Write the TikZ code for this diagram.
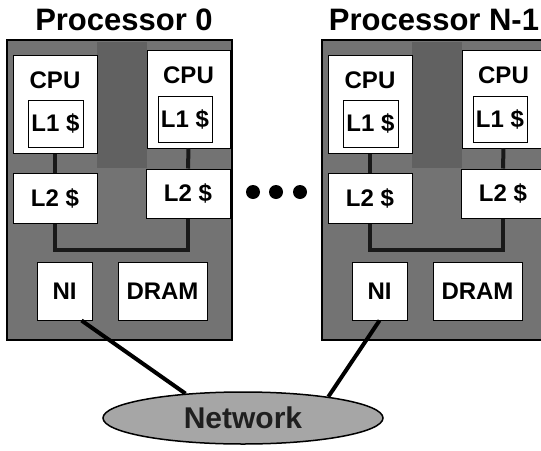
\documentclass[tikz,border=0pt]{standalone}
\usepackage{fontspec}
\setmainfont{Liberation Sans}
\usetikzlibrary{positioning,shapes.geometric}

\tikzset{
  procbox/.style={draw=black,line width=1.5pt,fill=black!55},
  unit/.style={draw=black,line width=1pt,fill=white,inner sep=0pt,
    font=\bfseries\fontsize{24}{26}\selectfont},
  lab/.style={inner sep=0pt,font=\bfseries\fontsize{24}{26}\selectfont},
  title/.style={inner sep=0pt,anchor=base,font=\bfseries\fontsize{31}{33}\selectfont},
  bus/.style={line width=4pt,black!90},
  link/.style={line width=4pt,black},
}

\begin{document}
\begin{tikzpicture}[x=1pt,y=-1pt]
\useasboundingbox (0,0) rectangle (541,450);

\foreach \p/\dx in {0/0,1/315} {
  \begin{scope}[xshift=\dx]
    \filldraw[procbox] (7,40) rectangle (232,340);
    \fill[black!62] (97,42) rectangle (147,168);
    \coordinate (busy\p) at (0,250);
    % two CPUs with their L1 caches
    \node[unit,minimum width=84,minimum height=98] (cpuA\p) at (55,104) {};
    \node[unit,minimum width=83,minimum height=98] (cpuB\p) at (188.5,99) {};
    \node[lab,below=17pt of cpuA\p.north] (cpuAt\p) {CPU};
    \node[lab,below=17pt of cpuB\p.north] (cpuBt\p) {CPU};
    \node[unit,minimum width=55,minimum height=47] (l1A\p) at (55.5,123.5) {L1 \$};
    \node[unit,minimum width=54,minimum height=46] (l1B\p) at (185,119) {L1 \$};
    % L2 caches
    \node[unit,minimum width=84,minimum height=50] (l2A\p) at (55,198) {L2 \$};
    \node[unit,minimum width=84,minimum height=49] (l2B\p) at (188,193.5) {L2 \$};
    % NI and memory
    \node[unit,minimum width=55,minimum height=58] (ni\p) at (64.5,291) {NI};
    \node[unit,minimum width=89,minimum height=58] (dram\p) at (162.5,291) {DRAM};
    % bus
    \draw[bus] (cpuA\p.south) -- (l2A\p.north);
    \draw[bus] (cpuB\p.south) -- (l2B\p.north);
    \draw[bus] (l2A\p.south) |- (l2B\p.south |- busy\p) -- (l2B\p.south);
  \end{scope}
}

\node[title] (title0) at (124,30) {Processor 0};
\node[title] (title1) at (434,30) {Processor N-1};

\foreach \x in {253,276,300}
  \fill (\x,192) circle (7);

\node[ellipse,draw=black,line width=1.5pt,fill=black!35,minimum width=280,
  minimum height=52,inner sep=0pt,text=black!88,
  font=\bfseries\fontsize{30}{32}\selectfont] (net) at (243,418) {Network};

\draw[link] (ni0.-60) -- (net.157);
\draw[link] (ni1.south) -- (net.14);

\end{tikzpicture}
\end{document}
